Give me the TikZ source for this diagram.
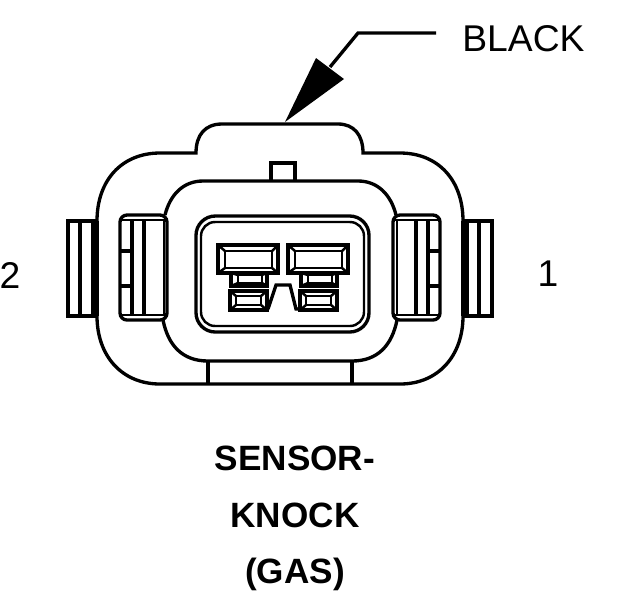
\documentclass[tikz,border=0pt]{standalone}
\usepackage{fontspec}
\setmainfont{Liberation Sans}
\usetikzlibrary{calc}
\tikzset{
	heavy/.style={line width=1.9pt, color=black},
	thin/.style={line width=1.4pt, color=black},
	caption/.style={font=\fontsize{20pt}{24pt}\selectfont\bfseries, inner sep=0pt, anchor=center},
	pinlabel/.style={font=\fontsize{21.2pt}{24pt}\selectfont, inner sep=0pt, anchor=center}
}
\def\pinblock(#1){
	\begin{scope}[shift={(#1)}]
		\draw[heavy, line width=2.3pt] (0, 0) rectangle (60, 28);
		\draw[thin] (7, 6) rectangle (54, 23);
		\draw[thin] (0, 0) -- (7, 6);
		\draw[thin] (60, 0) -- (54, 6);
		\draw[thin] (60, 28) -- (54, 23);
		\draw[thin] (0, 28) -- (7, 23);
		\draw[heavy, line width=2.3pt] (13, 28) -- (13, 41) -- (49, 41) -- (49, 28);
		\draw[thin] (20, 30) rectangle (44, 38);
		\draw[thin] (13, 28) -- (20, 30);
		\draw[thin] (49, 28) -- (44, 30);
		\draw[thin] (13, 41) -- (20, 38);
		\draw[thin] (49, 41) -- (44, 38);
		\draw[heavy, line width=2.3pt] (12, 46) rectangle (49, 65);
		\draw[thin] (18, 51) rectangle (43, 60);
		\draw[thin] (12, 46) -- (18, 51);
		\draw[thin] (12, 65) -- (18, 60);
		\draw[thin] (49, 46) -- (43, 51);
		\draw[thin] (49, 65) -- (43, 60);
	\end{scope}
}

\begin{document}
\begin{tikzpicture}[x=0.02cm, y=-0.02cm]
	\useasboundingbox (0, 0) rectangle (624, 600);
	%%%%% START %%%%%
	
	% housing
	\draw[heavy] (97, 221) .. controls (97, 180) and (122, 153) .. (160, 153) -- (196, 153)
		.. controls (196, 135) and (205, 124) .. (222, 124) -- (338, 124)
		.. controls (354, 124) and (363, 135) .. (363, 153) -- (400, 153)
		.. controls (438, 153) and (463, 180) .. (463, 221);
	\draw[heavy] (97, 316) .. controls (97, 356) and (122, 384) .. (160, 384) -- (400, 384)
		.. controls (438, 384) and (463, 356) .. (463, 316);
	\draw[heavy] (97, 221) -- (97, 316);
	\draw[heavy] (463, 221) -- (463, 316);
	
	% inner body
	\draw[heavy] (165, 215) .. controls (170, 195) and (183, 181) .. (203, 181) -- (358, 181)
		.. controls (378, 181) and (391, 195) .. (396, 215);
	\draw[heavy] (163, 320) .. controls (168, 345) and (182, 361) .. (208, 361) -- (352, 361)
		.. controls (378, 361) and (392, 345) .. (397, 320);
	\draw[heavy] (271, 181) -- (271, 163) -- (295, 163) -- (295, 181);
	\draw[heavy] (208, 361) -- (208, 384);
	\draw[heavy] (352, 361) -- (352, 384);
	
	% left side
	\draw[heavy] (97, 221) -- (68, 221) -- (68, 316) -- (97, 316);
	\draw[heavy] (80, 221) -- (80, 316);
	\draw[heavy] (93, 221) -- (93, 316);
	\draw[heavy, rounded corners=4pt] (120, 215) rectangle (167, 320);
	\draw[thin] (122, 220) -- (165, 220);
	\draw[thin] (122, 315) -- (165, 315);
	\draw[heavy] (132, 220) -- (132, 315);
	\draw[heavy] (144, 220) -- (144, 315);
	\draw[thin] (164, 220) -- (164, 315);
	\draw[heavy] (120, 251) -- (132, 251);
	\draw[heavy] (120, 286) -- (132, 286);
	
	% right side
	\draw[heavy] (463, 221) -- (492, 221) -- (492, 316) -- (463, 316);
	\draw[heavy] (479, 221) -- (479, 316);
	\draw[heavy] (467, 221) -- (467, 316);
	\draw[heavy, rounded corners=4pt] (393, 215) rectangle (440, 320);
	\draw[thin] (395, 220) -- (438, 220);
	\draw[thin] (395, 315) -- (438, 315);
	\draw[heavy] (416, 220) -- (416, 315);
	\draw[heavy] (428, 220) -- (428, 315);
	\draw[thin] (397, 220) -- (397, 315);
	\draw[heavy] (428, 251) -- (440, 251);
	\draw[heavy] (428, 286) -- (440, 286);
	
	% socket
	\draw[heavy, rounded corners=11pt] (196, 216) rectangle (369, 332);
	\draw[thin, rounded corners=8pt] (201, 222) rectangle (364, 326);
	\pinblock(218, 245);
	\pinblock(288, 245);
	\draw[heavy] (268, 309) -- (276, 285) -- (290, 285) -- (296, 309) -- (300, 309);
	
	% leader
	\coordinate (tip) at (285, 122);
	\coordinate (bend) at (358, 33);
	\node[pinlabel, anchor=west] (black) at (462, 39) {BLACK};
	\coordinate (leaderend) at (436, 33);
	\fill (tip) -- (316, 58) -- (344, 79) -- cycle;
	\draw[heavy] (330, 67) -- (bend) -- (leaderend);
	
	% labels
	\node[pinlabel] (pintwo) at (10, 275) {2};
	\node[pinlabel] (pinone) at (548, 274) {1};
	\node[caption] (sensor) at (295, 458) {SENSOR-};
	\node[caption] (knock) at (295, 515) {KNOCK};
	\node[caption] (gas) at (295, 574) {(GAS)};
	
	%%%%% END %%%%%
\end{tikzpicture}
\end{document}
